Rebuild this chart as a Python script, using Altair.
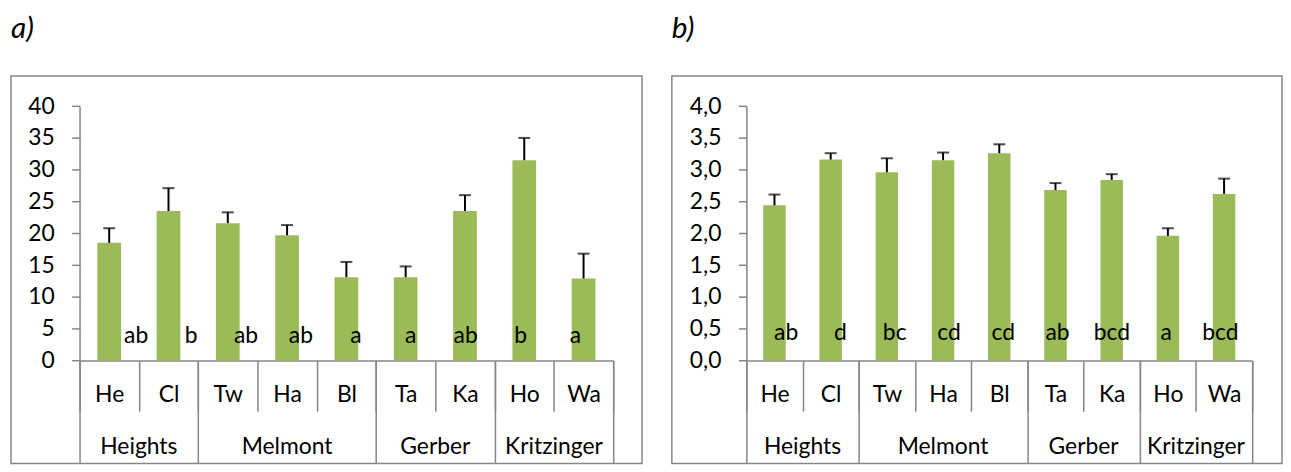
import altair as alt
import pandas as pd

# ---------------- data ----------------
sites = ["He", "Cl", "Tw", "Ha", "Bl", "Ta", "Ka", "Ho", "Wa"]
groups = ["Heights", "Melmont", "Gerber", "Kritzinger"]
group_sizes = [2, 3, 2, 2]

a_mean = [18.5, 23.5, 21.6, 19.7, 13.1, 13.1, 23.5, 31.5, 12.9]
a_err = [2.3, 3.6, 1.7, 1.6, 2.4, 1.7, 2.5, 3.5, 3.9]
a_letters = ["ab", "b", "ab", "ab", "a", "a", "ab", "b", "a"]
a_ticks = [0, 5, 10, 15, 20, 25, 30, 35, 40]

b_mean = [2.44, 3.16, 2.96, 3.15, 3.26, 2.68, 2.84, 1.96, 2.62]
b_err = [0.17, 0.10, 0.22, 0.12, 0.14, 0.11, 0.09, 0.12, 0.24]
b_letters = ["ab", "d", "bc", "cd", "cd", "ab", "bcd", "a", "bcd"]
b_ticks = [0.0, 0.5, 1.0, 1.5, 2.0, 2.5, 3.0, 3.5, 4.0]

# ---------------- style ----------------
FONT = "Lato"
GREY = "#868686"
GREEN = "#9BBB59"
FS = 23
H = 390          # box (view) height
Y0, Y1 = 286.3, 30.3   # pixel rows of the value axis inside the box


def group_table():
    starts, s = [], 0
    for n in group_sizes:
        starts.append(s)
        s += n
    gdf = pd.DataFrame({"group": groups, "start": starts, "size": group_sizes})
    gdf["center"] = gdf["start"] + gdf["size"] / 2
    bounds = starts + [s]
    return gdf, bounds, s


def panel(mean, err, letters, ticks, label_expr, title, W, x0, x1, lx0, lx1, lab_y):
    df = pd.DataFrame({
        "site": sites,
        "mean": mean,
        "top": [m + e for m, e in zip(mean, err)],
        "letter": letters,
    })
    gdf, bounds, total = group_table()

    x = alt.X(
        "site:N", sort=sites,
        scale=alt.Scale(type="band", range=[x0, x1], paddingInner=0, paddingOuter=0),
        axis=alt.Axis(
            orient="bottom", offset=Y0 - H, tickBand="extent", tickSize=51,
            tickColor=GREY, tickWidth=1.5, domainColor=GREY, domainWidth=1.5,
            labelFont=FONT, labelFontSize=FS, labelColor="black",
            labelBaseline="middle", labelPadding=-16.3, labelAngle=0,
            title=None, grid=False,
        ),
    )
    y = alt.Y(
        "mean:Q",
        scale=alt.Scale(domain=[ticks[0], ticks[-1]], range=[Y0, Y1], nice=False, zero=True),
        axis=alt.Axis(
            orient="left", offset=-x0, values=ticks, labelExpr=label_expr,
            tickSize=8, tickColor=GREY, tickWidth=1.5, domainColor=GREY, domainWidth=1.5,
            labelFont=FONT, labelFontSize=FS, labelColor="black", labelPadding=17.5,
            title=None, grid=False,
        ),
    )

    bars = alt.Chart(df).mark_bar(color=GREEN, width=alt.RelativeBandSize(0.4)).encode(x=x, y=y)
    stems = alt.Chart(df).mark_rule(color="black", strokeWidth=2).encode(
        x=alt.X("site:N", sort=sites), y="mean:Q", y2="top:Q")
    caps = alt.Chart(df).mark_tick(color="black", thickness=2, size=12).encode(
        x=alt.X("site:N", sort=sites), y="top:Q")

    lets = alt.Chart(df).mark_text(font=FONT, fontSize=FS, color="black",
                                   baseline="alphabetic", align="center").encode(
        x=alt.X("site:N", sort=sites,
                scale=alt.Scale(type="point", range=[lx0, lx1], padding=0), axis=None),
        y=alt.value(lab_y),
        text="letter:N",
    )

    grp = alt.Chart(gdf).mark_text(font=FONT, fontSize=FS, color="black",
                                   baseline="middle", align="center").encode(
        x=alt.X("center:Q",
                scale=alt.Scale(domain=[0, total], range=[x0, x1], nice=False, zero=False),
                axis=alt.Axis(orient="bottom", offset=Y0 - H, values=bounds, tickSize=103.2,
                              labels=False, domain=False, grid=False, tickColor=GREY,
                              tickWidth=1.5, title=None)),
        y=alt.value(373),
        text="group:N",
    )

    return alt.layer(alt.layer(bars, stems, caps), lets, grp).resolve_scale(
        x="independent").properties(
        width=W, height=H,
        title=alt.TitleParams(text=title, anchor="start", frame="group", font=FONT,
                              fontSize=30, fontStyle="italic", fontWeight="normal",
                              color="black", baseline="alphabetic", offset=8),
    )


pa = panel(a_mean, a_err, a_letters, a_ticks, "format(datum.value, 'd')", "a)",
           635, 69, 606, 126, 568, 268.7)
pb = panel(b_mean, b_err, b_letters, b_ticks,
           "replace(format(datum.value, '.1f'), '.', ',')", "b)",
           614, 75, 584, 115, 552, 265.3)

chart = alt.hconcat(pa, pb, spacing=28).configure_view(
    stroke=GREY, strokeWidth=1.5).properties(
    padding={"left": 2, "top": 4, "right": 0, "bottom": 0},
    background="white")

chart.save("out.html", embed_options={"renderer": "svg", "actions": False})
